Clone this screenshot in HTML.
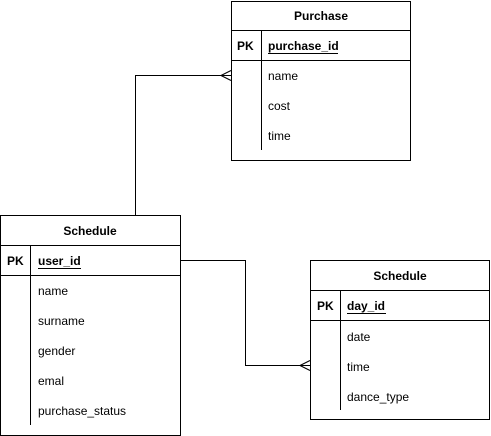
<!DOCTYPE html>
<html><head><meta charset="utf-8"><style>
html,body{margin:0;padding:0;background:#fff;}
svg{display:block;}
text{font-family:"Liberation Sans",Helvetica,Arial,sans-serif;font-size:12px;fill:#000;}
.b{font-weight:bold;}
</style></head><body>
<svg width="491" height="436" viewBox="0 0 491 436" xmlns="http://www.w3.org/2000/svg">
<g fill="none" stroke="#000" stroke-width="1">
<!-- connectors -->
<path d="M135.5 215 V75.5 H231"/>
<path d="M221 75.5 L231 70.5 M221 75.5 L231 80.5"/>
<path d="M180 260.5 H245.5 V365.5 H310"/>
<path d="M300 365.5 L310 360.5 M300 365.5 L310 370.5"/>
<!-- Purchase -->
<rect x="231.5" y="1.5" width="179" height="159"/>
<path d="M231.5 30.5 H410.5 M231.5 60.5 H410.5 M261.5 30.5 V150"/>
<!-- Schedule left -->
<rect x="0.5" y="215.5" width="180" height="220"/>
<path d="M0.5 245.5 H180.5 M0.5 275.5 H180.5 M30.5 245.5 V425"/>
<!-- Schedule right -->
<rect x="310.5" y="260.5" width="179" height="159"/>
<path d="M310.5 290.5 H489.5 M310.5 320.5 H489.5 M340.5 290.5 V410"/>
</g>
<g stroke="#000" stroke-width="1">
<line x1="268" y1="53.5" x2="338" y2="53.5"/>
<line x1="38" y1="268.5" x2="81" y2="268.5"/>
<line x1="347" y1="313.5" x2="386" y2="313.5"/>
</g>
<text x="321" y="20" text-anchor="middle" class="b">Purchase</text>
<text x="237" y="50" class="b">PK</text>
<text x="268" y="50" class="b">purchase_id</text>
<text x="268" y="80">name</text>
<text x="268" y="110">cost</text>
<text x="268" y="140">time</text>

<text x="90" y="235" text-anchor="middle" class="b">Schedule</text>
<text x="7" y="265" class="b">PK</text>
<text x="38" y="265" class="b">user_id</text>
<text x="38" y="295">name</text>
<text x="38" y="325">surname</text>
<text x="38" y="355">gender</text>
<text x="38" y="385">emal</text>
<text x="38" y="415">purchase_status</text>

<text x="400" y="280" text-anchor="middle" class="b">Schedule</text>
<text x="317" y="310" class="b">PK</text>
<text x="347" y="310" class="b">day_id</text>
<text x="347" y="341">date</text>
<text x="347" y="371">time</text>
<text x="347" y="401">dance_type</text>
</svg>
</body></html>
